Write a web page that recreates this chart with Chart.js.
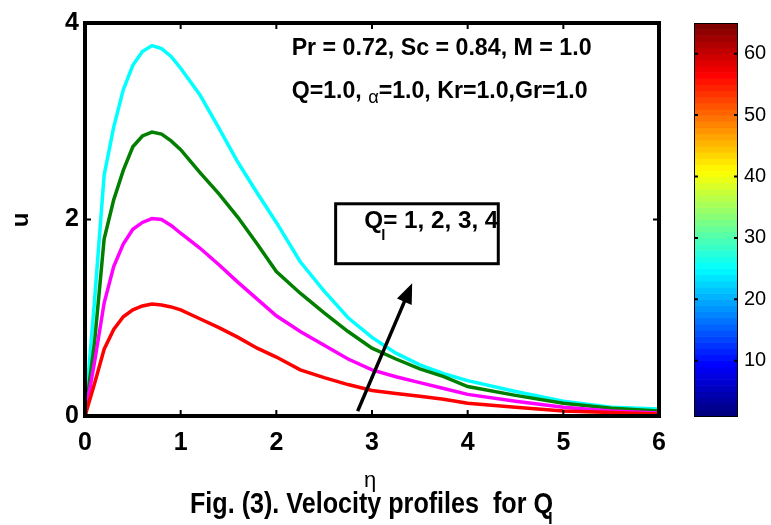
<!DOCTYPE html>
<html>
<head>
<meta charset="utf-8">
<script src="https://cdn.jsdelivr.net/npm/chart.js@4.4.1/dist/chart.umd.min.js"></script>
<style>
  html, body { margin: 0; padding: 0; background: #fff; }
  #wrap { width: 771px; height: 525px; }
</style>
</head>
<body>
<div id="wrap"><canvas id="velChart" width="771" height="525"></canvas></div>
<script>
// eta grid and velocity profiles for Q_l = 1, 2, 3, 4
const eta = [0, 0.1, 0.2, 0.3, 0.4, 0.5, 0.6, 0.7, 0.8, 0.9, 1.0, 1.2, 1.4, 1.6, 1.8, 2.0,
  2.25, 2.5, 2.75, 3.0, 3.25, 3.5, 3.75, 4.0, 4.5, 5.0, 5.5, 6.0];
const uQ1 = [0, 0.33, 0.68, 0.88, 1.01, 1.08, 1.12, 1.14, 1.13, 1.11, 1.08, 0.99, 0.90, 0.80, 0.69, 0.60,
  0.47, 0.39, 0.32, 0.26, 0.23, 0.20, 0.17, 0.13, 0.09, 0.05, 0.035, 0.02];
const uQ2 = [0, 0.55, 1.15, 1.52, 1.75, 1.90, 1.97, 2.01, 2.00, 1.94, 1.86, 1.71, 1.54, 1.36, 1.19, 1.02,
  0.86, 0.72, 0.58, 0.47, 0.40, 0.34, 0.28, 0.22, 0.15, 0.09, 0.05, 0.03];
const uQ3 = [0, 0.75, 1.80, 2.20, 2.50, 2.74, 2.85, 2.89, 2.87, 2.80, 2.71, 2.48, 2.26, 2.02, 1.75, 1.47,
  1.25, 1.05, 0.86, 0.69, 0.58, 0.48, 0.40, 0.30, 0.21, 0.13, 0.08, 0.05];
const uQ4 = [0, 1.18, 2.45, 2.94, 3.32, 3.57, 3.71, 3.77, 3.74, 3.66, 3.54, 3.27, 2.93, 2.58, 2.27, 1.97,
  1.57, 1.27, 1.00, 0.80, 0.64, 0.52, 0.43, 0.36, 0.25, 0.15, 0.09, 0.07];

const seriesLabels = ["Ql = 1", "Ql = 2", "Ql = 3", "Ql = 4"];
const seriesColors = ["#ff0000", "#ff00ff", "#007f00", "#00ffff"];

const xTicks = [0, 1, 2, 3, 4, 5, 6];
const yTicks = [0, 2, 4];
const cbTicks = [10, 20, 30, 40, 50, 60];

const FONT = "'Liberation Sans', Arial, Helvetica, sans-serif";

function jet(t) {
  const c = (v) => Math.round(255 * Math.max(0, Math.min(1, v)));
  return "rgb(" + c(1.5 - Math.abs(4 * t - 3)) + "," + c(1.5 - Math.abs(4 * t - 2)) + "," + c(1.5 - Math.abs(4 * t - 1)) + ")";
}

// draw several text runs in a row, squeezed to a target width if needed
function drawRuns(ctx, runs, x, y, targetWidth) {
  let total = 0;
  runs.forEach((r) => { ctx.font = r.font; r.w = ctx.measureText(r.text).width; total += r.w; });
  const sx = targetWidth ? targetWidth / total : 1;
  ctx.save();
  ctx.translate(x, y);
  ctx.scale(sx, 1);
  let cx = 0;
  runs.forEach((r) => {
    ctx.font = r.font;
    ctx.fillText(r.text, cx, r.dy || 0);
    cx += r.w;
  });
  ctx.restore();
}

const decorPlugin = {
  id: "decor",
  afterDatasetsDraw(chart) {
    const ctx = chart.ctx;
    const a = chart.chartArea;
    const xs = chart.scales.x, ys = chart.scales.y, cb = chart.scales.cb;
    ctx.save();
    ctx.fillStyle = "#000";
    ctx.strokeStyle = "#000";
    ctx.textBaseline = "alphabetic";
    ctx.textAlign = "left";

    // frame + inward ticks
    ctx.lineWidth = 4;
    ctx.strokeRect(a.left, a.top, a.right - a.left, a.bottom - a.top);
    ctx.lineWidth = 2;
    ctx.beginPath();
    xTicks.forEach((v) => {
      const px = xs.getPixelForValue(v);
      ctx.moveTo(px, a.bottom); ctx.lineTo(px, a.bottom - 6);
      ctx.moveTo(px, a.top); ctx.lineTo(px, a.top + 6);
    });
    yTicks.forEach((v) => {
      const py = ys.getPixelForValue(v);
      ctx.moveTo(a.left, py); ctx.lineTo(a.left + 6, py);
      ctx.moveTo(a.right, py); ctx.lineTo(a.right - 6, py);
    });
    ctx.stroke();

    // parameter text
    const bold23 = "bold 24px " + FONT;
    drawRuns(ctx, [{ text: "Pr = 0.72, Sc = 0.84, M = 1.0", font: bold23 }],
      xs.getPixelForValue(2.16), ys.getPixelForValue(3.67), 300);
    drawRuns(ctx, [
      { text: "Q=1.0, ", font: bold23 },
      { text: "\u03b1", font: "19px " + FONT, dy: 5 },
      { text: "=1.0, Kr=1.0,Gr=1.0", font: bold23 }
    ], xs.getPixelForValue(2.16), ys.getPixelForValue(3.24), 296);

    // legend-like box
    const bx0 = xs.getPixelForValue(2.62), bx1 = xs.getPixelForValue(4.32);
    const by0 = ys.getPixelForValue(2.16), by1 = ys.getPixelForValue(1.55);
    ctx.fillStyle = "#fff";
    ctx.fillRect(bx0, by0, bx1 - bx0, by1 - by0);
    ctx.fillStyle = "#000";
    ctx.lineWidth = 3;
    ctx.strokeRect(bx0, by0, bx1 - bx0, by1 - by0);
    const tx = xs.getPixelForValue(2.92), ty = ys.getPixelForValue(1.91);
    drawRuns(ctx, [{ text: "Q= 1, 2, 3, 4", font: bold23 }], tx, ty, 134);
    ctx.font = "bold 15px " + FONT;
    ctx.fillText("l", tx + 17, ty + 12);

    // arrow
    const ax0 = xs.getPixelForValue(2.85), ay0 = ys.getPixelForValue(0.05);
    const ax1 = xs.getPixelForValue(3.42), ay1 = ys.getPixelForValue(1.35);
    const ang = Math.atan2(ay1 - ay0, ax1 - ax0);
    const hl = 20, hw = 8;
    ctx.lineWidth = 3.5;
    ctx.beginPath();
    ctx.moveTo(ax0, ay0);
    ctx.lineTo(ax1 - hl * Math.cos(ang) * 0.8, ay1 - hl * Math.sin(ang) * 0.8);
    ctx.stroke();
    ctx.beginPath();
    ctx.moveTo(ax1, ay1);
    ctx.lineTo(ax1 - hl * Math.cos(ang) + hw * Math.sin(ang), ay1 - hl * Math.sin(ang) - hw * Math.cos(ang));
    ctx.lineTo(ax1 - hl * Math.cos(ang) - hw * Math.sin(ang), ay1 - hl * Math.sin(ang) + hw * Math.cos(ang));
    ctx.closePath();
    ctx.fill();

    // colorbar
    const cl = 694, cr = 738;
    for (let i = 0; i < 64; i++) {
      const y0 = cb.getPixelForValue(i + 1), y1 = cb.getPixelForValue(i + 2);
      ctx.fillStyle = jet(i / 63);
      ctx.fillRect(cl, y1, cr - cl, y0 - y1 + 0.6);
    }
    ctx.lineWidth = 1;
    ctx.strokeStyle = "#000";
    ctx.strokeRect(cl + 0.5, cb.getPixelForValue(65) + 0.5, cr - cl - 1, cb.getPixelForValue(1) - cb.getPixelForValue(65));
    ctx.lineWidth = 2;
    ctx.beginPath();
    cbTicks.forEach((v) => {
      const py = cb.getPixelForValue(v);
      ctx.moveTo(cl, py); ctx.lineTo(cl + 4, py);
      ctx.moveTo(cr, py); ctx.lineTo(cr - 4, py);
    });
    ctx.stroke();

    // axis titles and caption
    ctx.fillStyle = "#000";
    ctx.save();
    ctx.translate(28, 220);
    ctx.rotate(-Math.PI / 2);
    ctx.textAlign = "center";
    ctx.font = "bold 24px " + FONT;
    ctx.fillText("u", 0, 0);
    ctx.restore();

    ctx.textAlign = "center";
    ctx.font = "22px " + FONT;
    ctx.fillText("\u03b7", 370, 487);
    ctx.textAlign = "left";

    drawRuns(ctx, [{ text: "Fig. (3). Velocity profiles  for Q", font: "bold 30px " + FONT }], 190, 513, 363);
    ctx.font = "bold 17px " + FONT;
    ctx.fillText("l", 548, 524);

    ctx.restore();
  }
};

document.addEventListener("DOMContentLoaded", function () {
  const ctx = document.getElementById("velChart").getContext("2d");
  const series = [uQ1, uQ2, uQ3, uQ4];

  new Chart(ctx, {
    type: "line",
    data: {
      datasets: series.map((vals, k) => ({
        label: seriesLabels[k],
        data: eta.map((x, i) => ({ x: x, y: vals[i] })),
        borderColor: seriesColors[k],
        borderWidth: 3.5,
        pointRadius: 0,
        fill: false,
        tension: 0,
      })),
    },
    options: {
      responsive: false,
      animation: false,
      devicePixelRatio: 1,
      layout: { padding: { left: 0, right: 0, top: 23, bottom: 0 } },
      plugins: {
        legend: { display: false },
        tooltip: { enabled: false },
      },
      scales: {
        x: {
          type: "linear",
          min: 0,
          max: 6,
          afterBuildTicks: (s) => { s.ticks = xTicks.map((v) => ({ value: v })); },
          afterFit: (s) => { s.height = 109; },
          grid: { display: false, drawTicks: false },
          border: { display: false },
          ticks: { color: "#000", padding: 12, maxRotation: 0, font: { family: FONT, size: 25, weight: "bold" } },
        },
        y: {
          type: "linear",
          min: 0,
          max: 4,
          afterBuildTicks: (s) => { s.ticks = yTicks.map((v) => ({ value: v })); },
          afterFit: (s) => { s.width = 85; s.paddingTop = 0; s.paddingBottom = 0; },
          grid: { display: false, drawTicks: false },
          border: { display: false },
          ticks: { color: "#000", padding: 6, font: { family: FONT, size: 25, weight: "bold" } },
        },
        cb: {
          type: "linear",
          axis: "y",
          position: "right",
          min: 1,
          max: 65,
          afterBuildTicks: (s) => { s.ticks = cbTicks.map((v) => ({ value: v })); },
          afterFit: (s) => { s.width = 112; s.paddingTop = 0; s.paddingBottom = 0; },
          grid: { display: false, drawTicks: false },
          border: { display: false },
          ticks: { color: "#000", padding: 85, font: { family: FONT, size: 20 } },
        },
      },
    },
    plugins: [decorPlugin],
  });
});
</script>
</body>
</html>
